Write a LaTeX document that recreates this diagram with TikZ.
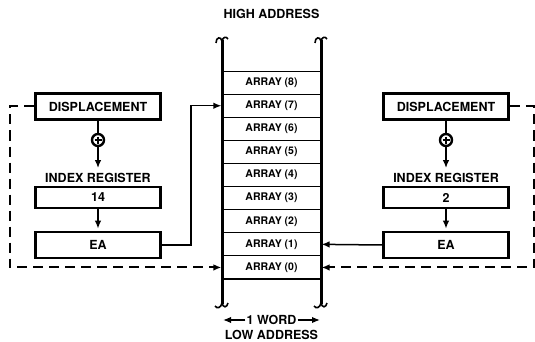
\documentclass[tikz,border=0pt]{standalone}
\usepackage{fontspec}
\setmainfont{TeX Gyre Heros}
\usetikzlibrary{arrows.meta}
\begin{document}
\begin{tikzpicture}[x=1pt,y=-1pt,
  lbl/.style={font=\fontsize{12.5}{13}\selectfont\bfseries, inner sep=1pt},
  cellbox/.style={draw, line width=1.1pt, minimum width=99pt, minimum height=23.1pt, inner sep=0pt, font=\fontsize{10.5}{11}\selectfont\bfseries},
  regbox/.style={draw, line width=2.6pt, minimum width=125pt, inner sep=0pt, font=\fontsize{12.5}{13}\selectfont\bfseries},
  sumnode/.style={draw, circle, line width=2.4pt, minimum size=12pt, inner sep=0pt},
  conn/.style={line width=1.5pt, -{Latex[length=8pt,width=6.5pt]}},
  dconn/.style={line width=2pt, dash pattern=on 10pt off 6pt, -{Latex[length=8pt,width=6.5pt]}},
  colline/.style={line width=3pt}
]
\useasboundingbox (0,0) rectangle (535,342);

% memory column
\foreach \i in {0,...,8}
  \node[cellbox] (a\i) at (271.5,{279-23.1*(\i+0.5)}) {ARRAY (\i)};
\draw[colline] (222,40) -- (222,304);
\draw[colline] (321,40) -- (321,304);
% curls
\draw[line width=1.6pt] (216,43) .. controls (216,37) and (221,36) .. (222,41);
\draw[line width=1.6pt] (222,41) .. controls (223,37) and (226,36) .. (228,39);
\draw[line width=1.6pt] (315,43) .. controls (315,37) and (320,36) .. (321,41);
\draw[line width=1.6pt] (321,41) .. controls (322,37) and (325,36) .. (327,39);
\draw[line width=1.6pt] (222,303) .. controls (221,308) and (217,309) .. (215,306);
\draw[line width=1.6pt] (222,303) .. controls (223,308) and (227,308) .. (228,303);
\draw[line width=1.6pt] (321,303) .. controls (320,308) and (316,309) .. (314,306);
\draw[line width=1.6pt] (321,303) .. controls (322,308) and (326,308) .. (327,303);

\node[lbl] (high) at (271.5,14) {HIGH ADDRESS};
\node[lbl] (low) at (271.5,335) {LOW ADDRESS};
\node[lbl] (word) at (271.5,320) {1 WORD};
\coordinate (wl) at (223,320);
\coordinate (wr) at (320,320);
\draw[conn] (word.west) -- (wl);
\draw[conn] (word.east) -- (wr);

% left block
\node[regbox, minimum height=26pt] (dispL) at (98,106.5) {DISPLACEMENT};
\node[sumnode] (sumL) at (98,140) {};
\draw[line width=1.4pt] (94.5,140) -- (101.5,140) (98,136.5) -- (98,143.5);
\node[lbl] (idxL) at (98,178) {INDEX REGISTER};
\node[regbox, minimum height=21pt] (regL) at (98,197.5) {14};
\node[regbox, minimum height=26pt] (eaL) at (98,245) {EA};
\draw[line width=1.5pt] (dispL.south) -- (sumL.north);
\draw[conn, shorten >=4pt] (sumL.south) -- (idxL.north);
\draw[conn, shorten >=2pt] (regL.south) -- (eaL.north);
\draw[conn] (eaL.east) -- ++(29,0) |- (a7.west);
\draw[dconn] (dispL.west) -- ++(-24,0) |- (a0.west);

% right block
\node[regbox, minimum height=26pt] (dispR) at (446,106.5) {DISPLACEMENT};
\node[sumnode] (sumR) at (446,140) {};
\draw[line width=1.4pt] (442.5,140) -- (449.5,140) (446,136.5) -- (446,143.5);
\node[lbl] (idxR) at (446,178) {INDEX REGISTER};
\node[regbox, minimum height=21pt] (regR) at (446,197.5) {2};
\node[regbox, minimum height=26pt] (eaR) at (446,245) {EA};
\draw[line width=1.5pt] (dispR.south) -- (sumR.north);
\draw[conn, shorten >=4pt] (sumR.south) -- (idxR.north);
\draw[conn, shorten >=2pt] (regR.south) -- (eaR.north);
\draw[conn] (eaR.west) -- (a1.east);
\draw[dconn] (dispR.east) -- ++(24,0) |- (a0.east);
\end{tikzpicture}
\end{document}
